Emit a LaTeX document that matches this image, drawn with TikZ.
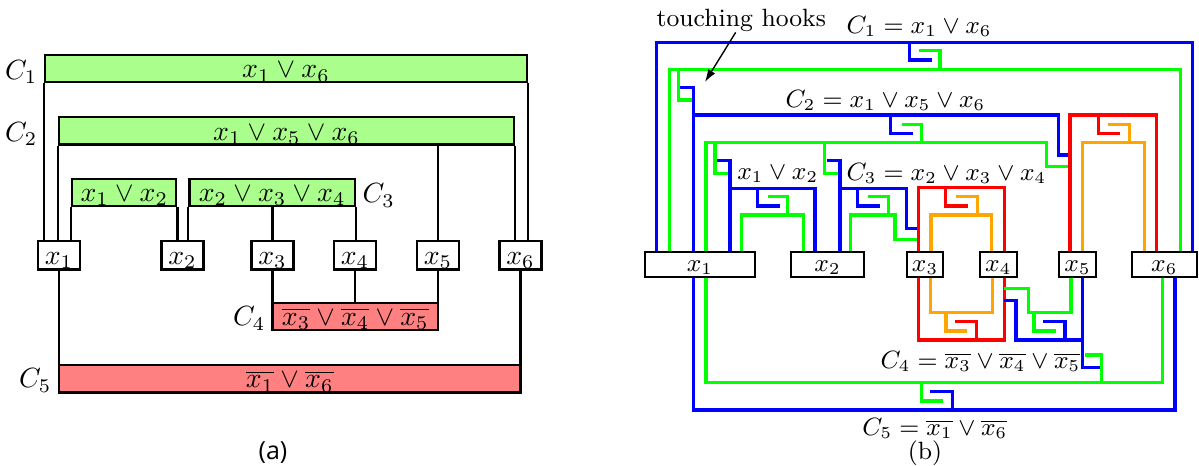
\documentclass[tikz,border=0pt]{standalone}
\usepackage{fontspec}
\newfontfamily\capfont{Open Sans}
\usetikzlibrary{calc,arrows.meta}
\definecolor{cgreen}{RGB}{170,255,140}
\definecolor{cred}{RGB}{255,128,128}
\definecolor{wblue}{RGB}{0,0,255}
\definecolor{wgreen}{RGB}{0,255,0}
\definecolor{wred}{RGB}{255,0,0}
\definecolor{worange}{RGB}{255,165,0}
\begin{document}
\begin{tikzpicture}[x=0.36pt,y=-0.36pt,
  abox/.style={draw, line width=0.85pt, inner sep=0pt, text height=7pt, text depth=0.34pt},
  gbox/.style={abox, fill=cgreen, minimum height=27.2*0.36pt},
  rbox/.style={abox, fill=cred, minimum height=27.3*0.36pt},
  vbox/.style={abox, fill=white, minimum width=42*0.36pt, minimum height=28.3*0.36pt},
  aline/.style={line width=0.8pt},
  lab/.style={inner sep=0pt},
  bbox/.style={draw, line width=0.8pt, inner sep=0pt, fill=white, minimum height=25*0.36pt,
    text height=6pt, text depth=0.6pt, font=\fontsize{9}{11}\selectfont},
  blab/.style={inner sep=0pt, anchor=base west, font=\fontsize{9}{11}\selectfont},
  bw/.style={draw=wblue, line width=1.15pt},
  gw/.style={draw=wgreen, line width=1.15pt},
  rw/.style={draw=wred, line width=1.15pt},
  ow/.style={draw=worange, line width=1.15pt},
  arr/.style={-{Latex[length=4.5pt,width=3pt]}, line width=0.5pt}
]
\useasboundingbox (0,0) rectangle (1199,466);

% ================= panel (a) =================
\node[gbox, minimum width=482*0.36pt] (C1) at (286,68.7) {$x_1\vee x_6$};
\node[gbox, minimum width=455*0.36pt] (C2) at (286.5,130.8) {$x_1\vee x_5\vee x_6$};
\node[gbox, minimum width=104*0.36pt] (C12) at (124.3,192.5) {$x_1\vee x_2$};
\node[gbox, minimum width=165.6*0.36pt] (C3) at (272.2,192.5) {$x_2\vee x_3\vee x_4$};
\node[rbox, minimum width=165.5*0.36pt] (C4) at (355.25,316.4) {$\overline{x_3}\vee\overline{x_4}\vee\overline{x_5}$};
\node[rbox, minimum width=461.5*0.36pt] (C5) at (289.75,378.7) {$\overline{x_1}\vee\overline{x_6}$};

\node[vbox] (x1) at (59,255.2) {$x_1$};
\node[vbox] (x2) at (182.5,255.2) {$x_2$};
\node[vbox] (x3) at (272.5,255.2) {$x_3$};
\node[vbox] (x4) at (355,255.2) {$x_4$};
\node[vbox] (x5) at (438,255.2) {$x_5$};
\node[vbox] (x6) at (520.5,255.2) {$x_6$};

\draw[aline] (C1.south west) -- (C1.south west |- x1.north);
\draw[aline] (C1.south east) -- (C1.south east |- x6.north);
\draw[aline] (C2.south west) -- (C2.south west |- x1.north);
\draw[aline] (C2.south east) -- (C2.south east |- x6.north);
\draw[aline] (x5.north) -- (x5.north |- C2.south);
\draw[aline] (C12.south west) -- (C12.south west |- x1.north);
\draw[aline] (C12.south east) -- (C12.south east |- x2.north);
\draw[aline] (C3.south west) -- (C3.south west |- x2.north);
\draw[aline] (x3.north) -- (x3.north |- C3.south);
\draw[aline] (C3.south east) -- (C3.south east |- x4.north);
\draw[aline] (x3.south) -- (x3.south |- C4.north);
\draw[aline] (x4.south) -- (x4.south |- C4.north);
\draw[aline] (x5.south) -- (x5.south |- C4.north);
\draw[aline] (x1.south) -- (x1.south |- C5.north);
\draw[aline] (x6.south) -- (x6.south |- C5.north);

\node[lab, anchor=base east] (lC1) at (38,79.3) {$C_1$};
\node[lab, anchor=base east] (lC2) at (38,141.5) {$C_2$};
\node[lab, anchor=base west] (lC3) at (362,203) {$C_3$};
\node[lab, anchor=base east] (lC4) at (266,326) {$C_4$};
\node[lab, anchor=base east] (lC5) at (52,388) {$C_5$};
\node[lab, anchor=base, font=\capfont\fontsize{9}{11}\selectfont] (capa) at (273,460) {(a)};

% ================= panel (b) =================
% C1
\draw[bw] (656.7,251.7) -- (656.7,42.5) -- (1192.3,42.5) -- (1192.3,251.7);
\draw[bw] (909.3,42.5) -- (909.3,60) -- (932.3,60);
\draw[gw] (669.3,251.7) -- (669.3,69.3) -- (1180.7,69.3) -- (1180.7,251.7);
\draw[gw] (940,69.3) -- (940,50.7) -- (919.3,50.7);
\draw[gw] (678.3,69.3) -- (678.3,100) -- (691.7,100);
% C2
\draw[bw] (693.3,251.7) -- (693.3,87.3) -- (680,87.3);
\draw[bw] (693.3,115) -- (1058.3,115) -- (1058.3,155) -- (1070,155);
\draw[bw] (890.7,115) -- (890.7,133.3) -- (913.3,133.3);
\draw[gw] (706,251.7) -- (706,142.3) -- (1046.7,142.3) -- (1046.7,166.7) -- (1070,166.7);
\draw[gw] (901.7,124.3) -- (921.7,124.3) -- (921.7,142.3);
% x5 - x6 gadget
\draw[rw] (1070,251.7) -- (1070,115) -- (1156.7,115) -- (1156.7,251.7);
\draw[rw] (1098.3,115) -- (1098.3,133.3) -- (1120,133.3);
\draw[ow] (1082.7,251.7) -- (1082.7,142.5) -- (1144.3,142.5) -- (1144.3,251.7);
\draw[ow] (1108.3,124.3) -- (1129.3,124.3) -- (1129.3,142.5);
% x1 v x2
\draw[gw] (715,142.3) -- (715,173.3) -- (728.3,173.3);
\draw[bw] (730,251.7) -- (730,160.7) -- (716.7,160.7);
\draw[bw] (730,188.3) -- (815,188.3) -- (815,251.7);
\draw[bw] (757.3,188.3) -- (757.3,206) -- (780,206);
\draw[gw] (741.7,251.7) -- (741.7,215) -- (803.3,215) -- (803.3,251.7);
\draw[gw] (767.7,196.7) -- (787.7,196.7) -- (787.7,215);
% C3
\draw[gw] (824.3,142.3) -- (824.3,173.3) -- (838.3,173.3);
\draw[bw] (840,251.7) -- (840,160.7) -- (826.7,160.7);
\draw[bw] (840,188.3) -- (906.7,188.3) -- (906.7,228.3) -- (918.3,228.3);
\draw[bw] (857.3,188.3) -- (857.3,206) -- (880,206);
\draw[gw] (850.7,251.7) -- (850.7,215) -- (895,215) -- (895,239.3) -- (918.3,239.3);
\draw[gw] (868.3,196.7) -- (888.3,196.7) -- (888.3,215);
% x3 - x4 gadget
\draw[rw] (918.3,251.7) -- (918.3,187.7) -- (1004.3,187.7) -- (1004.3,251.7);
\draw[rw] (945.7,187.7) -- (945.7,206) -- (968.3,206);
\draw[ow] (931,251.7) -- (931,215) -- (991.7,215) -- (991.7,251.7);
\draw[ow] (977.3,215) -- (977.3,196.7) -- (956,196.7);
\draw[rw] (918.3,276.7) -- (918.3,340) -- (1004.3,340) -- (1004.3,276.7);
\draw[rw] (976.7,340) -- (976.7,321.7) -- (955,321.7);
\draw[ow] (930.7,276.7) -- (930.7,312.7) -- (992.3,312.7) -- (992.3,276.7);
\draw[ow] (946,312.7) -- (946,331) -- (967.3,331);
% C4
\draw[gw] (1004.3,288.3) -- (1028.3,288.3) -- (1028.3,312.7) -- (1071,312.7) -- (1071,276.7);
\draw[gw] (1034,312.7) -- (1034,331) -- (1055.7,331);
\draw[bw] (1004.3,300.7) -- (1016,300.7) -- (1016,340) -- (1082.7,340);
\draw[bw] (1082.7,276.7) -- (1082.7,367.7) -- (1100.7,367.7);
\draw[bw] (1065,340) -- (1065,321.7) -- (1043.3,321.7);
% C5
\draw[gw] (706,276.7) -- (706,382.7) -- (1162.7,382.7) -- (1162.7,276.7);
\draw[gw] (921.7,382.7) -- (921.7,401) -- (942.7,401);
\draw[gw] (1101.7,382.7) -- (1101.7,355) -- (1085,355);
\draw[bw] (693.3,276.7) -- (693.3,410) -- (1175,410) -- (1175,276.7);
\draw[bw] (952.3,410) -- (952.3,391.7) -- (930,391.7);

% variable boxes
\node[bbox, minimum width=110*0.36pt] (y1) at (700,264.2) {$x_1$};
\node[bbox, minimum width=73*0.36pt] (y2) at (827.5,264.2) {$x_2$};
\node[bbox, minimum width=36.6*0.36pt] (y3) at (925,264.2) {$x_3$};
\node[bbox, minimum width=36.7*0.36pt] (y4) at (998.3,264.2) {$x_4$};
\node[bbox, minimum width=36.4*0.36pt] (y5) at (1077.5,264.2) {$x_5$};
\node[bbox, minimum width=65.3*0.36pt] (y6) at (1164.3,264.2) {$x_6$};

% labels
\node[blab] (th) at (656,26.7) {touching hooks};
\coordinate (hk) at (705,82);
\draw[arr] ([xshift=-2pt]th.south) -- (hk);
\node[blab] (L1) at (846,34) {$C_1 = x_1\vee x_6$};
\node[blab] (L2) at (785,107.5) {$C_2 = x_1\vee x_5\vee x_6$};
\node[blab] (L12) at (736.7,180) {$x_1\vee x_2$};
\node[blab] (L3) at (846,181) {$C_3 = x_2\vee x_3\vee x_4$};
\node[blab] (L4) at (880,369) {$C_4 = \overline{x_3}\vee\overline{x_4}\vee\overline{x_5}$};
\node[blab] (L5) at (861.7,436) {$C_5 = \overline{x_1}\vee\overline{x_6}$};
\node[blab, anchor=base] (capb) at (925,460) {(b)};
\end{tikzpicture}
\end{document}
